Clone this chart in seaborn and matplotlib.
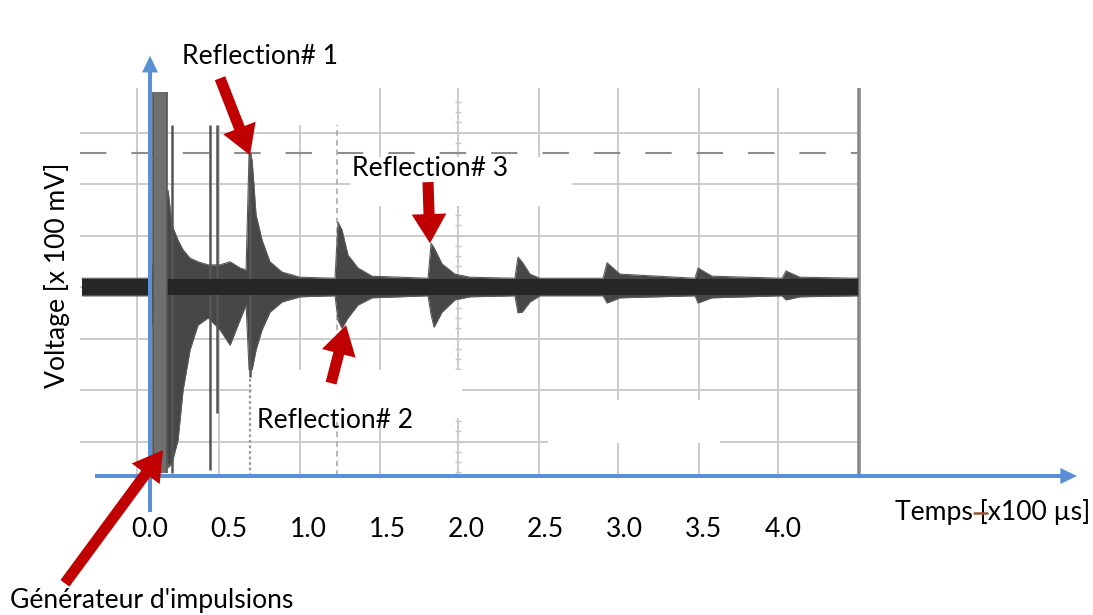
import numpy as np
import pandas as pd
import matplotlib
matplotlib.use("Agg")
import matplotlib.pyplot as plt
import seaborn as sns
from matplotlib.patches import Rectangle

# ---- data: time in units of 100 µs, voltage in units of 100 mV ----
tick_values = [0.0, 0.5, 1.0, 1.5, 2.0, 2.5, 3.0, 3.5, 4.0]
tick_labels = ["0.0", "0.5", "1.0", "1.5", "2.0", "2.5", "3.0", "3.5", "4.0"]

# envelope of the recorded ringing (upper / lower extremes)
env_t = [-0.430, 0.000, 0.114, 0.139, 0.177, 0.209, 0.253, 0.303, 0.367, 0.442,
         0.506, 0.569, 0.607, 0.626, 0.645, 0.670, 0.708, 0.758, 0.834, 0.948,
         1.169, 1.188, 1.213, 1.251, 1.314, 1.403, 1.757, 1.776, 1.795, 1.845,
         1.927, 2.022, 2.306, 2.325, 2.351, 2.401, 2.464, 2.863, 2.888, 2.970,
         3.444, 3.463, 3.551, 3.994, 4.019, 4.107, 4.474]
env_upper = [0.17, 0.17, 1.88, 1.20, 0.91, 0.72, 0.56, 0.49, 0.43, 0.43,
             0.49, 0.37, 0.33, 2.60, 2.47, 1.40, 0.91, 0.49, 0.29, 0.19,
             0.17, 1.26, 1.11, 0.62, 0.37, 0.21, 0.17, 0.85, 0.76, 0.45,
             0.25, 0.19, 0.17, 0.58, 0.49, 0.25, 0.17, 0.17, 0.47, 0.25,
             0.17, 0.37, 0.21, 0.17, 0.31, 0.19, 0.17]
env_lower = [-0.17, -0.17, -3.51, -3.42, -2.97, -2.00, -1.22, -0.74, -0.60, -0.83,
             -1.13, -0.64, -0.35, -1.61, -1.61, -1.22, -0.83, -0.49, -0.29, -0.19,
             -0.17, -0.64, -0.80, -0.60, -0.35, -0.21, -0.17, -0.54, -0.78, -0.49,
             -0.25, -0.19, -0.17, -0.50, -0.49, -0.29, -0.17, -0.17, -0.31, -0.21,
             -0.17, -0.31, -0.21, -0.17, -0.25, -0.19, -0.17]

# steady noise band of the trace
base_t = [-0.430, 4.474]
base_half = 0.16

# excitation pulse from the generator
pulse_t = [0.02, 0.11]
pulse_top = 3.79
pulse_bottom = -3.62

# narrow spikes following the pulse
spike_t = [0.139, 0.379, 0.423, 0.632]
spike_top = [3.15, 3.15, 3.15, 2.60]
spike_bottom = [-3.61, -3.55, -2.45, -1.75]

# echoes pointed out on the trace
refl_names = ["Reflection# 1", "Reflection# 2", "Reflection# 3"]
refl_t = [0.632, 1.239, 1.769]
refl_v = [2.56, -0.74, 0.85]
gen_t, gen_v = 0.082, -3.17

# oscilloscope graticule
grid_t = [-0.082, 0.436, 0.948, 1.453, 1.946, 2.458, 2.957, 3.469, 3.968]
grid_v = [3, 2, 1, 0, -1, -2, -3]
screen_t = [-0.44, 4.48]
screen_v = [-3.67, 3.86]
cursor_v = 2.60
cursor_t = 1.18
centre_t = 1.946

# ---- figure ----
sns.set_theme(style="white")
plt.rcParams["font.family"] = ["Lato", "DejaVu Sans"]
plt.rcParams["lines.scale_dashes"] = False

fig = plt.figure(figsize=(10.93, 6.15), dpi=100)
ax = fig.add_axes([0, 0, 1, 1])
ax.set_xlim(-0.948, 5.959)
ax.set_ylim(-6.369, 5.573)
ax.axis("off")

grid_col = "#c8c8c8"
# graticule
ax.vlines(grid_t, screen_v[0], screen_v[1], color=grid_col, lw=1.3, zorder=1)
ax.hlines(grid_v, screen_t[0], screen_t[1], color=grid_col, lw=1.3, zorder=1)
# minor divisions on the centre vertical line
minor_v = np.arange(-3.6, 3.8, 0.2)
ax.hlines(minor_v, centre_t - 0.02, centre_t + 0.02, color=grid_col, lw=1.0, zorder=1)
# right edge of the screen
ax.vlines(screen_t[1], screen_v[0], screen_v[1], color="#8a8a8a", lw=2.6, zorder=1.2)
# cursors
ax.hlines(cursor_v, screen_t[0], screen_t[1], color="#8c8c8c", lw=1.5,
          linestyles=(0, (19, 18)), zorder=1.5)
ax.vlines(cursor_t, screen_v[0], 3.15, color="#b0b0b0", lw=1.3,
          linestyles=(0, (4, 3)), zorder=1.5)
ax.vlines(spike_t[3], screen_v[0], spike_bottom[3], color="#9a9a9a", lw=1.6,
          linestyles=(0, (2, 2)), zorder=1.5)

# ringing envelope
ax.fill_between(env_t, env_lower, env_upper, color="#474747", lw=0, zorder=3)
env = pd.DataFrame({"t": env_t * 2,
                    "v": env_upper + env_lower,
                    "edge": ["upper"] * len(env_t) + ["lower"] * len(env_t)})
sns.lineplot(data=env, x="t", y="v", units="edge", estimator=None, sort=False,
             color="#5a5a5a", lw=0.8, ax=ax, legend=False, zorder=3)
ax.fill_between(base_t, -base_half, base_half, color="#262626", lw=0, zorder=3.5)
ax.vlines(spike_t, spike_bottom, spike_top, color="#555555", lw=1.8, zorder=3.2)

# excitation pulse
ax.fill_between(pulse_t, pulse_bottom, pulse_top, color="#6f6f6f", lw=0, zorder=3.6)
ax.vlines(pulse_t, pulse_bottom, pulse_top, color="#555555", lw=1.2, zorder=3.7)

# label backgrounds
for (x0, y0, w, h) in [(0.126, 3.15, 1.315, 1.0),
                       (1.264, 1.90, 1.403, 0.62),
                       (1.346, 1.57, 1.131, 0.40),
                       (0.645, -2.54, 1.327, 0.93),
                       (2.515, -3.03, 1.087, 0.84)]:
    ax.add_patch(Rectangle((x0, y0), w, h, facecolor="white", edgecolor="none", zorder=5))

# axes drawn as arrows
blue = "#5b8fd6"
axis_style = "simple,head_width=11.5,head_length=12,tail_width=2.9"
ax.annotate("", xy=(5.858, screen_v[0]), xytext=(-0.348, screen_v[0]),
            arrowprops=dict(arrowstyle=axis_style, color=blue, lw=0,
                            shrinkA=0, shrinkB=0, mutation_scale=1), zorder=6)
ax.annotate("", xy=(0.0, 4.49), xytext=(0.0, -4.37),
            arrowprops=dict(arrowstyle=axis_style, color=blue, lw=0,
                            shrinkA=0, shrinkB=0, mutation_scale=1), zorder=6)

# tick labels
fs = 19.1
for tv, tl in zip(tick_values, tick_labels):
    ax.text(tv, -4.70, tl, ha="center", va="center", fontsize=fs, color="black", zorder=6)

ax.text(-0.588, 0.23, "Voltage [x 100 mV]", rotation=90, ha="center", va="center",
        fontsize=fs, color="black", zorder=6)
ax.text(4.708, -4.37, "Temps [x100 µs]", ha="left", va="center",
        fontsize=fs, color="black", zorder=6)
ax.plot([5.205, 5.29], [-4.39, -4.39], color="#a0522d", lw=1.8, zorder=6.5)

# red pointers
red = "#c00000"
red_style = "simple,head_width=25,head_length=21,tail_width=8"
offsets = [(-21.6, 55.4), (-10.8, -41.8), (-1.4, 44.0)]
for tt, vv, off in zip(refl_t, refl_v, offsets):
    ax.annotate("", xy=(tt, vv), xytext=off, textcoords="offset points",
                arrowprops=dict(arrowstyle=red_style, color=red, lw=0,
                                shrinkA=0, shrinkB=0, mutation_scale=1), zorder=7)
ax.annotate("", xy=(gen_t, gen_v), xytext=(-70.6, -95.8), textcoords="offset points",
            arrowprops=dict(arrowstyle=red_style, color=red, lw=0,
                            shrinkA=0, shrinkB=0, mutation_scale=1), zorder=7)

label_pos = [(0.202, 4.47), (0.676, -2.60), (1.276, 2.31)]
for name, (lx, ly) in zip(refl_names, label_pos):
    ax.text(lx, ly, name, ha="left", va="center", fontsize=fs, color="black", zorder=6)
ax.text(-0.885, -6.08, "Générateur d'impulsions", ha="left", va="center",
        fontsize=fs, color="black", zorder=6)

fig.savefig("out.png", dpi=100, facecolor="white")
